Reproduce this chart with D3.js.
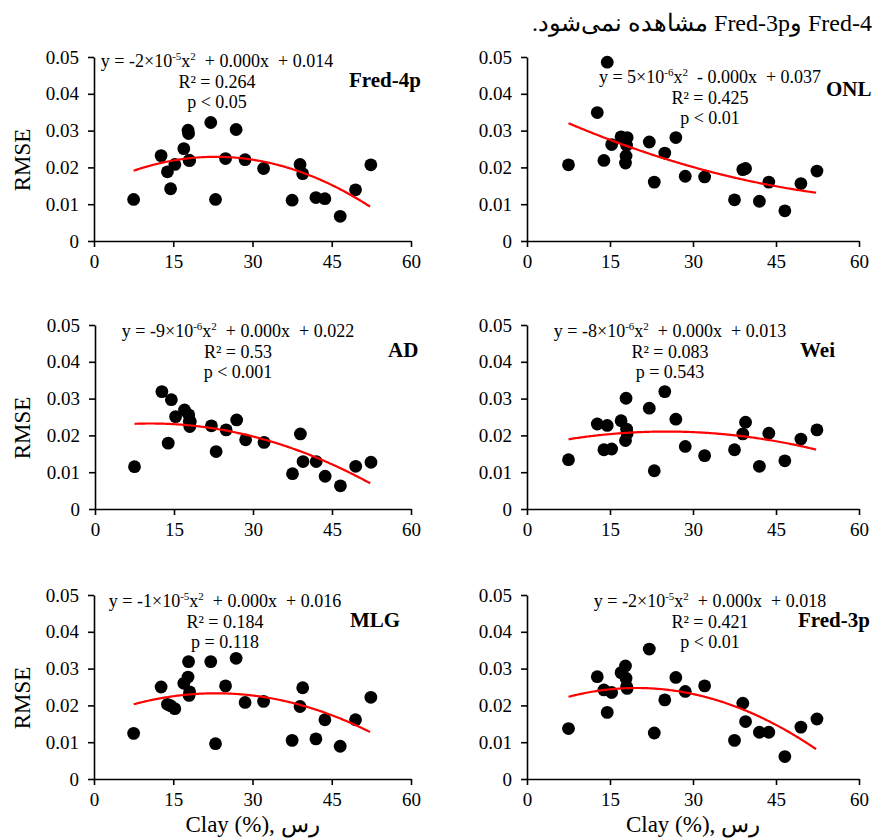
<!DOCTYPE html>
<html>
<head>
<meta charset="utf-8">
<script src="https://cdn.jsdelivr.net/npm/d3@7"></script>
<style>
  html, body { margin: 0; padding: 0; background: #fff; overflow: hidden; }
  svg { display: block; }
  text { font-family: "Liberation Serif", "Times New Roman", serif; fill: #000; }
</style>
</head>
<body>
<svg id="chart" width="873" height="838"></svg>
<script>
// ---------------- data ----------------
const models = ["Fred-4p", "ONL", "AD", "Wei", "MLG", "Fred-3p"];
const clay = [7.5, 12.7, 13.9, 14.5, 15.3, 17.0, 17.8, 17.9, 18.0, 18.1, 22.1, 23.0,
              24.9, 26.9, 28.6, 32.1, 37.5, 39.0, 39.5, 42.0, 43.7, 46.6, 49.5, 52.4];
const rmseFred4p = [0.0113, 0.0232, 0.0188, 0.0142, 0.0208, 0.0251, 0.0301, 0.0292, 0.0219, 0.0219, 0.0322, 0.0113,
                    0.0224, 0.0303, 0.0221, 0.0197, 0.0111, 0.0208, 0.0183, 0.0118, 0.0115, 0.0067, 0.0139, 0.0207];
const rmseONL    = [0.0207, 0.0349, 0.0219, 0.0486, 0.0262, 0.0283, 0.0212, 0.0231, 0.0260, 0.0281, 0.0269, 0.0160,
                    0.0239, 0.0281, 0.0176, 0.0174, 0.0112, 0.0194, 0.0197, 0.0108, 0.0160, 0.0082, 0.0156, 0.0190];
const rmseAD     = [0.0115, 0.0319, 0.0179, 0.0297, 0.0251, 0.0269, 0.0256, 0.0238, 0.0224, 0.0238, 0.0226, 0.0156,
                    0.0215, 0.0242, 0.0188, 0.0181, 0.0096, 0.0204, 0.0129, 0.0129, 0.0089, 0.0063, 0.0116, 0.0127];
const rmseWei    = [0.0134, 0.0231, 0.0161, 0.0227, 0.0163, 0.0240, 0.0186, 0.0301, 0.0217, 0.0205, 0.0274, 0.0104,
                    0.0319, 0.0244, 0.0170, 0.0145, 0.0161, 0.0204, 0.0236, 0.0116, 0.0206, 0.0131, 0.0190, 0.0215];
const rmseMLG    = [0.0124, 0.0250, 0.0203, 0.0199, 0.0191, 0.0260, 0.0277, 0.0319, 0.0227, 0.0237, 0.0319, 0.0096,
                    0.0253, 0.0328, 0.0208, 0.0211, 0.0105, 0.0197, 0.0248, 0.0109, 0.0161, 0.0089, 0.0161, 0.0222];
const rmseFred3p = [0.0137, 0.0278, 0.0242, 0.0181, 0.0235, 0.0289, 0.0307, 0.0274, 0.0251, 0.0246, 0.0353, 0.0125,
                    0.0215, 0.0276, 0.0238, 0.0253, 0.0105, 0.0206, 0.0156, 0.0127, 0.0127, 0.0061, 0.0141, 0.0163];
const rmseSeries = [rmseFred4p, rmseONL, rmseAD, rmseWei, rmseMLG, rmseFred3p];

// quadratic trend lines y = a x^2 + b x + c, as drawn
const trendA = [-1.58e-5, 4.82e-6, -9.35e-6, -6.69e-6, -1.236e-5, -1.58e-5];
const trendB = [0.000726, -0.00071, 0.0001975, 0.000337, 0.00057, 0.000626];
const trendC = [0.01454, 0.03706, 0.02219, 0.0168, 0.01672, 0.01853];

// equation labels
const eqLead  = ["y = -2×10", "y = 5×10", "y = -9×10", "y = -8×10", "y = -1×10", "y = -2×10"];
const eqExp   = ["-5", "-6", "-6", "-6", "-5", "-5"];
const eqTail  = ["  + 0.000x  + 0.014", "  - 0.000x  + 0.037", "  + 0.000x  + 0.022",
                 "  + 0.000x  + 0.013", "  + 0.000x  + 0.016", "  + 0.000x  + 0.018"];
const r2Text  = ["0.264", "0.425", "0.53", "0.083", "0.184", "0.421"];
const pText   = ["p < 0.05", "p < 0.01", "p < 0.001", "p = 0.543", "p = 0.118", "p < 0.01"];

const xTicks = [0, 15, 30, 45, 60];
const yTicks = [0, 0.01, 0.02, 0.03, 0.04, 0.05];
const yLabel = "RMSE";
const xLabel = "Clay (%), رس";
const headerText = "Fred-4 وFred-3p مشاهده نمی‌شود.";

// ---------------- layout ----------------
const SERIF = '"Liberation Serif", "Times New Roman", serif';
const frames = [
  {x0: 94,  x1: 411, y0: 57,  y1: 241, eqX: 217, eqY: 67,  nameX: 349, nameY: 87,  left: true,  bottom: false},
  {x0: 527, x1: 859, y0: 57,  y1: 241, eqX: 710, eqY: 83,  nameX: 826, nameY: 96,  left: false, bottom: false},
  {x0: 95,  x1: 411, y0: 325, y1: 509, eqX: 238, eqY: 337, nameX: 388, nameY: 357, left: true,  bottom: false},
  {x0: 527, x1: 859, y0: 325, y1: 509, eqX: 670, eqY: 337, nameX: 800, nameY: 357, left: false, bottom: false},
  {x0: 94,  x1: 411, y0: 595, y1: 779, eqX: 225, eqY: 607, nameX: 350, nameY: 627, left: true,  bottom: true},
  {x0: 527, x1: 859, y0: 595, y1: 779, eqX: 710, eqY: 607, nameX: 798, nameY: 627, left: false, bottom: true}
];

const svg = d3.select("#chart");

// header (Persian sentence, right-aligned at the edge)
svg.append("text")
  .attr("x", 872).attr("y", 31)
  .attr("direction", "rtl")
  .attr("text-anchor", "start")
  .style("font-size", "24px")
  .text(headerText);

models.forEach((name, i) => {
  const f = frames[i];
  const x = d3.scaleLinear().domain([0, 60]).range([f.x0, f.x1]);
  const y = d3.scaleLinear().domain([0, 0.05]).range([f.y1, f.y0]);
  const g = svg.append("g");

  // axes
  const ax = g.append("g").attr("transform", `translate(0,${f.y1})`)
    .call(d3.axisBottom(x).tickValues(xTicks).tickSize(6).tickSizeOuter(0).tickPadding(8).tickFormat(d3.format("d")));
  const ay = g.append("g").attr("transform", `translate(${f.x0},0)`)
    .call(d3.axisLeft(y).tickValues(yTicks).tickSize(6).tickSizeOuter(0).tickPadding(9)
      .tickFormat(d => d === 0 ? "0" : d.toFixed(2)));
  [ax, ay].forEach(a => {
    a.attr("font-family", SERIF).attr("font-size", 19);
    a.selectAll("path.domain").attr("stroke", "#000").attr("stroke-width", 1.6);
    a.selectAll(".tick line").attr("stroke", "#000").attr("stroke-width", 1.6);
    a.selectAll(".tick text").style("font-family", SERIF).style("font-size", "19px").attr("fill", "#000");
  });

  // points
  const ys = rmseSeries[i];
  g.append("g").selectAll("circle").data(clay.map((c, k) => [c, ys[k]])).join("circle")
    .attr("cx", d => x(d[0])).attr("cy", d => y(d[1])).attr("r", 6.4).attr("fill", "#000");

  // trend line
  const xs = d3.range(d3.min(clay), d3.max(clay) + 0.001, 0.25);
  const line = d3.line().x(d => x(d)).y(d => y(trendA[i] * d * d + trendB[i] * d + trendC[i]));
  g.append("path").datum(xs).attr("d", line)
    .attr("fill", "none").attr("stroke", "#ff0000").attr("stroke-width", 2.2);

  // equation text
  const eq = g.append("text").attr("x", f.eqX).attr("y", f.eqY)
    .attr("text-anchor", "middle").style("font-size", "18px").style("white-space", "pre");
  eq.append("tspan").text(eqLead[i]);
  eq.append("tspan").attr("dy", -7).style("font-size", "11px").text(eqExp[i]);
  eq.append("tspan").attr("dy", 7).text("x");
  eq.append("tspan").attr("dy", -7).style("font-size", "11px").text("2");
  eq.append("tspan").attr("dy", 7).text(eqTail[i]);

  g.append("text").attr("x", f.eqX).attr("y", f.eqY + 20.5)
    .attr("text-anchor", "middle").style("font-size", "18px").text("R² = " + r2Text[i]);
  g.append("text").attr("x", f.eqX).attr("y", f.eqY + 41)
    .attr("text-anchor", "middle").style("font-size", "18px").text(pText[i]);

  // model name
  g.append("text").attr("x", f.nameX).attr("y", f.nameY)
    .style("font-size", "21px").style("font-weight", "bold").text(name);

  // axis titles
  if (f.left) {
    g.append("text")
      .attr("transform", `translate(30,${(f.y0 + f.y1) / 2 + 11}) rotate(-90)`)
      .attr("text-anchor", "middle").style("font-size", "23px").text(yLabel);
  }
  if (f.bottom) {
    g.append("text").attr("x", (f.x0 + f.x1) / 2).attr("y", 832)
      .attr("text-anchor", "middle").style("font-size", "23px").text(xLabel);
  }
});
</script>
</body>
</html>
